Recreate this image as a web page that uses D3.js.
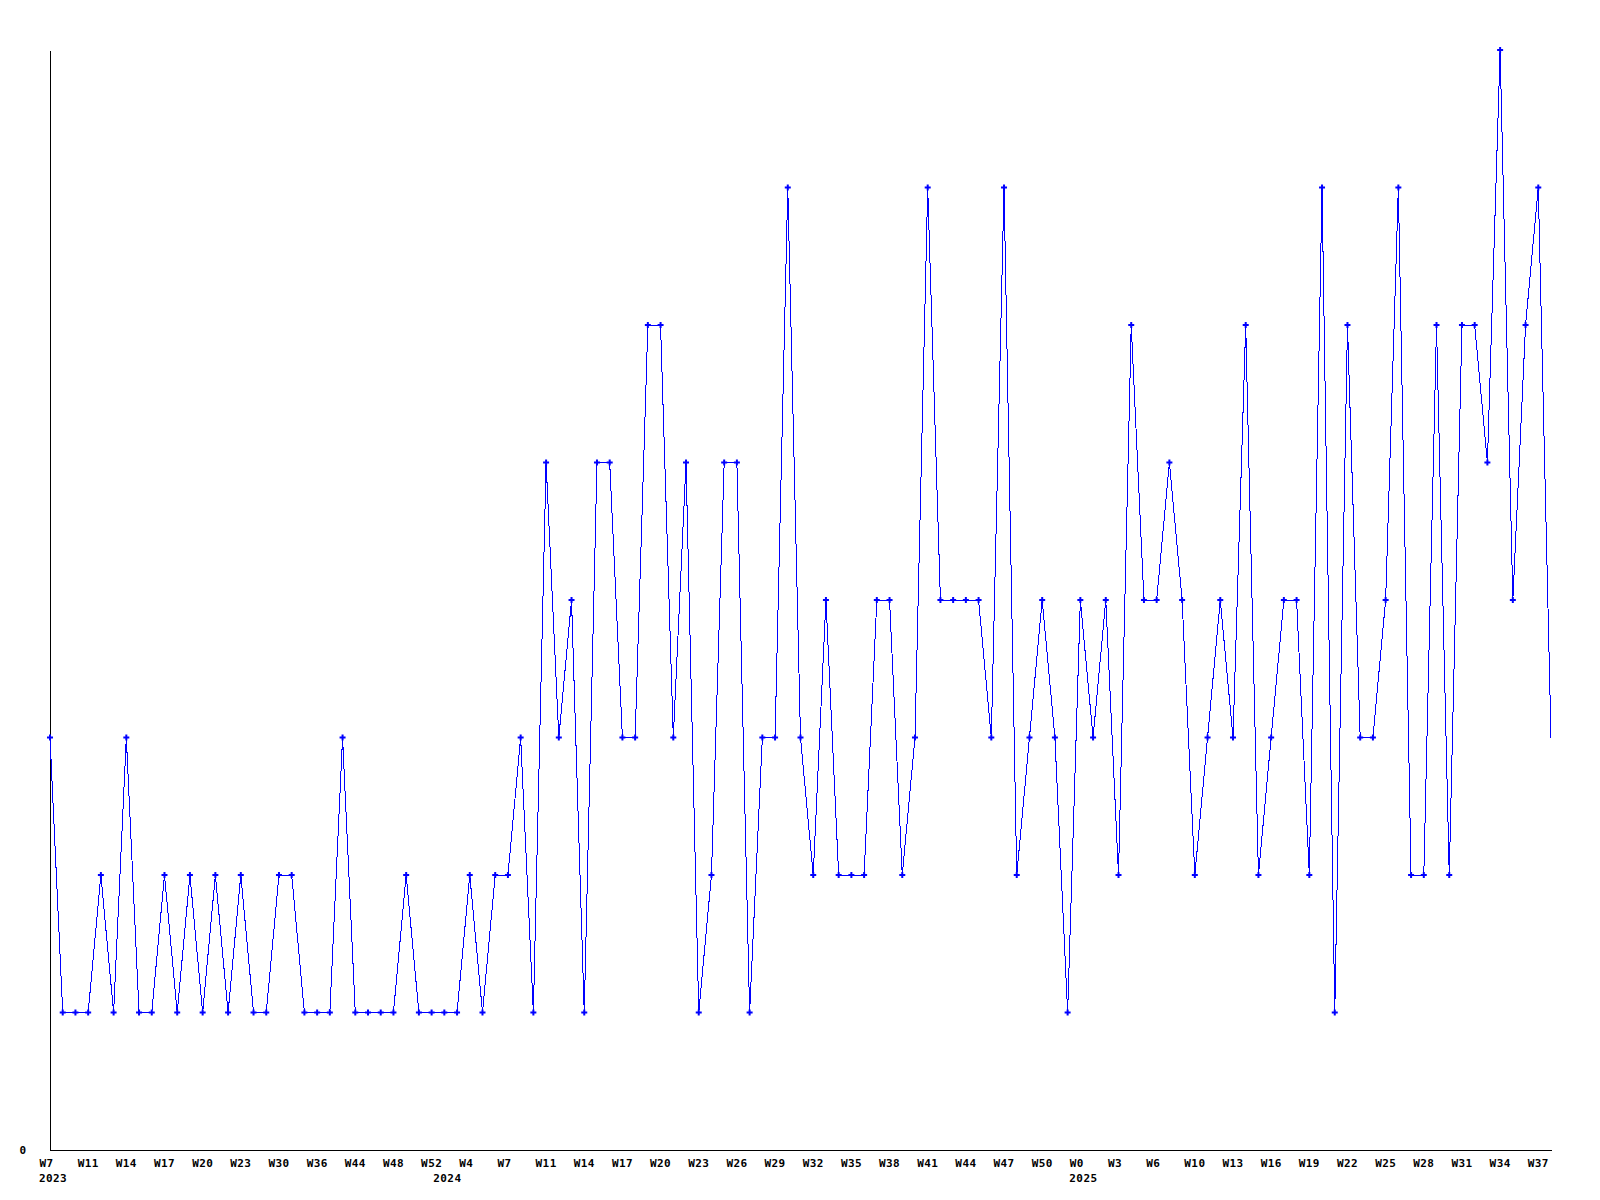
<!DOCTYPE html>
<html>
<head>
<title>Weekly chart</title>

<script src="https://d3js.org/d3.v7.min.js"></script>

<style>

body,html {
  margin: 0;
  padding: 0;
  background: white;
}

svg {
  display: block;
}

.axis-text {
  font-family: "DejaVu Sans Mono", monospace;
  font-weight: bold;
  font-size: 11px;
  letter-spacing: 0.4px;
  fill: black;
}

</style>

</head>

<body>

<svg id="chart" width="1600" height="1200"></svg>

<script>

// one value per week, in order
const values = [
  3, 1, 1, 1, 2, 1, 3, 1, 1, 2,
  1, 2, 1, 2, 1, 2, 1, 1, 2, 2,
  1, 1, 1, 3, 1, 1, 1, 1, 2, 1,
  1, 1, 1, 2, 1, 2, 2, 3, 1, 5,
  3, 4, 1, 5, 5, 3, 3, 6, 6, 3,
  5, 1, 2, 5, 5, 1, 3, 3, 7, 3,
  2, 4, 2, 2, 2, 4, 4, 2, 3, 7,
  4, 4, 4, 4, 3, 7, 2, 3, 4, 3,
  1, 4, 3, 4, 2, 6, 4, 4, 5, 4,
  2, 3, 4, 3, 6, 2, 3, 4, 4, 2,
  7, 1, 6, 3, 3, 4, 7, 2, 2, 6,
  2, 6, 6, 5, 8, 4, 6, 7, 3
];

// a week label on every third point
const tickLabels = [
  "W7", "W11", "W14", "W17", "W20", "W23", "W30", "W36", "W44", "W48", "W52",
  "W4", "W7", "W11", "W14", "W17", "W20", "W23", "W26", "W29", "W32", "W35",
  "W38", "W41", "W44", "W47", "W50",
  "W0", "W3", "W6", "W10", "W13", "W16", "W19", "W22", "W25", "W28", "W31",
  "W34", "W37"
];
const tickStep = 3;

// year labels and the index of the first point of that year
const years = ["2023", "2024", "2025"];
const yearStart = [0, 31, 81];

const yTicks = [0];

function main() {
  const svg = d3.select("#chart");

  let left = 50, right = 1551, top = 50, bottom = 1150;

  let xScale = d3.scalePoint()
                 .domain(d3.range(values.length))
                 .range([left, right]);

  let yScale = d3.scaleLinear()
                 .domain([0, 8])
                 .range([bottom, top]);

  let labelShift = -11;

  // x axis
  let tickIdx = tickLabels.map((d, i) => i * tickStep);
  let xAxis = d3.axisBottom(xScale)
                .tickValues(tickIdx)
                .tickSize(0)
                .tickFormat(d => tickLabels[d / tickStep]);

  let gx = svg.append("g")
     .attr("transform", "translate(0," + bottom + ")")
     .call(xAxis);
  gx.select(".domain").attr("stroke", "black").attr("shape-rendering", "crispEdges");
  gx.selectAll("text")
     .attr("class", "axis-text")
     .attr("text-anchor", "start")
     .attr("y", 17)
     .attr("dy", 0)
     .attr("x", labelShift);

  // years under the week labels
  svg.append("g").selectAll("text")
     .data(years)
     .join("text")
     .attr("class", "axis-text")
     .attr("x", (d, i) => xScale(yearStart[i]) + labelShift)
     .attr("y", bottom + 32)
     .text(d => d);

  // y axis
  let yAxis = d3.axisLeft(yScale)
                .tickValues(yTicks)
                .tickSize(0)
                .tickFormat(d3.format("d"));

  let gy = svg.append("g")
     .attr("transform", "translate(" + left + ",0)")
     .call(yAxis);
  gy.select(".domain").attr("stroke", "black").attr("shape-rendering", "crispEdges");
  gy.selectAll("text")
     .attr("class", "axis-text")
     .attr("text-anchor", "start")
     .attr("x", -30.5)
     .attr("dy", 3.5);

  // data line
  let dataLine = d3.line()
                   .x((d, i) => xScale(i))
                   .y(d => yScale(d));

  svg.append("path")
     .attr("fill", "none")
     .attr("stroke", "#0000ff")
     .attr("stroke-width", 1)
     .attr("shape-rendering", "crispEdges")
     .attr("d", dataLine(values));

  // point markers (the last point has none in the original)
  let marker = d3.symbol().type(d3.symbolCross).size(20);

  svg.append("g").selectAll("path")
     .data(values.slice(0, -1))
     .join("path")
     .attr("fill", "#0000ff")
     .attr("transform", (d, i) => "translate(" + xScale(i) + "," + yScale(d) + ")")
     .attr("d", marker);
}

main();

</script>

</body>
</html>
